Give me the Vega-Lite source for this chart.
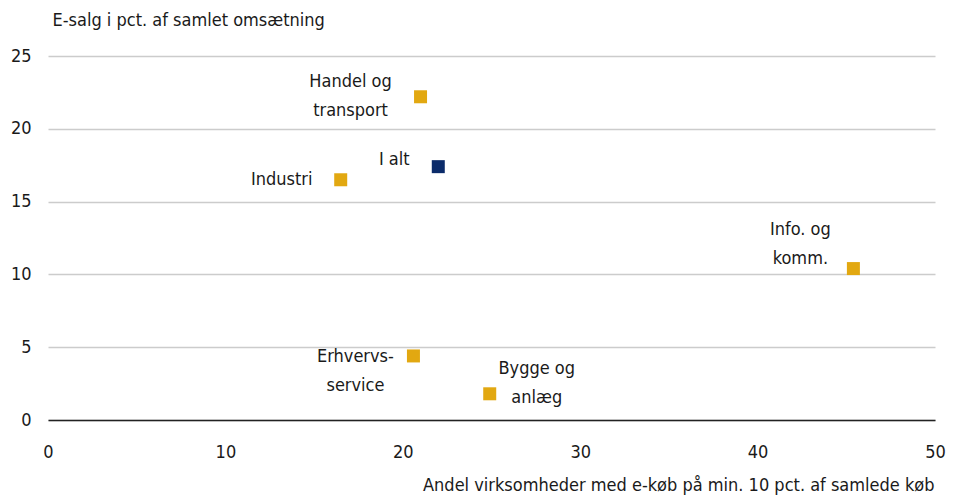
{
  "$schema": "https://vega.github.io/schema/vega-lite/v6.json",
  "autosize": "none",
  "width": 887,
  "height": 364,
  "padding": {"left": 48, "top": 56, "right": 21, "bottom": 78},
  "background": "white",
  "config": {
    "font": "DejaVu Sans Condensed",
    "view": {"stroke": null},
    "text": {"font": "DejaVu Sans Condensed", "fontSize": 18, "color": "#1a1a1a", "lineHeight": 29}
  },
  "data": {
    "values": [
      {"name": "Handel og transport", "label": "Handel og\ntransport", "x": 21.0, "y": 22.2, "group": "sektor"},
      {"name": "I alt", "label": "I alt", "x": 22.0, "y": 17.4, "group": "total"},
      {"name": "Industri", "label": "Industri", "x": 16.5, "y": 16.5, "group": "sektor"},
      {"name": "Info. og komm.", "label": "Info. og\nkomm.", "x": 45.4, "y": 10.4, "group": "sektor"},
      {"name": "Erhvervsservice", "label": "Erhvervs-\nservice", "x": 20.6, "y": 4.4, "group": "sektor"},
      {"name": "Bygge og anlæg", "label": "Bygge og\nanlæg", "x": 24.9, "y": 1.8, "group": "sektor"}
    ]
  },
  "encoding": {
    "x": {
      "field": "x", "type": "quantitative",
      "scale": {"domain": [0, 50], "nice": false, "zero": true},
      "axis": {
        "values": [0, 10, 20, 30, 40, 50],
        "grid": false, "ticks": false,
        "domain": true, "domainColor": "#222222", "domainWidth": 1.5,
        "labelFont": "DejaVu Sans Condensed", "labelFontSize": 18, "labelColor": "#1a1a1a",
        "labelPadding": 23, "labelFlush": false,
        "title": "Andel virksomheder med e-køb på min. 10 pct. af samlede køb",
        "titleFont": "DejaVu Sans Condensed", "titleFontSize": 18, "titleFontWeight": "normal", "titleColor": "#1a1a1a",
        "titleAnchor": "end", "titleAlign": "right", "titleX": 886, "titleY": 65, "titleBaseline": "middle"
      }
    },
    "y": {
      "field": "y", "type": "quantitative",
      "scale": {"domain": [0, 25], "nice": false},
      "axis": {
        "values": [0, 5, 10, 15, 20, 25],
        "grid": true, "gridColor": "#cccccc", "gridWidth": 1.5,
        "ticks": false, "domain": false,
        "labelFont": "DejaVu Sans Condensed", "labelFontSize": 18, "labelColor": "#1a1a1a",
        "labelPadding": 17,
        "title": "E-salg i pct. af samlet omsætning",
        "titleFont": "DejaVu Sans Condensed", "titleFontSize": 18, "titleFontWeight": "normal", "titleColor": "#1a1a1a",
        "titleAngle": 0, "titleAlign": "left", "titleBaseline": "middle", "titleX": 4, "titleY": -36
      }
    }
  },
  "layer": [
    {
      "mark": {"type": "square", "size": 169, "opacity": 1, "cornerRadius": 1},
      "encoding": {
        "color": {
          "field": "group", "type": "nominal",
          "scale": {"domain": ["sektor", "total"], "range": ["#E2A811", "#0B2B6A"]},
          "legend": null
        }
      }
    },
    {
      "transform": [{"filter": "datum.name === 'Handel og transport'"}],
      "mark": {"type": "text", "align": "center", "baseline": "middle", "lineBreak": "\n", "dx": -70, "dy": -15},
      "encoding": {"text": {"field": "label"}}
    },
    {
      "transform": [{"filter": "datum.name === 'I alt'"}],
      "mark": {"type": "text", "align": "center", "baseline": "middle", "lineBreak": "\n", "dx": -44, "dy": -7},
      "encoding": {"text": {"field": "label"}}
    },
    {
      "transform": [{"filter": "datum.name === 'Industri'"}],
      "mark": {"type": "text", "align": "center", "baseline": "middle", "lineBreak": "\n", "dx": -59, "dy": 0},
      "encoding": {"text": {"field": "label"}}
    },
    {
      "transform": [{"filter": "datum.name === 'Info. og komm.'"}],
      "mark": {"type": "text", "align": "center", "baseline": "middle", "lineBreak": "\n", "dx": -53, "dy": -39},
      "encoding": {"text": {"field": "label"}}
    },
    {
      "transform": [{"filter": "datum.name === 'Erhvervsservice'"}],
      "mark": {"type": "text", "align": "center", "baseline": "middle", "lineBreak": "\n", "dx": -58, "dy": 1},
      "encoding": {"text": {"field": "label"}}
    },
    {
      "transform": [{"filter": "datum.name === 'Bygge og anlæg'"}],
      "mark": {"type": "text", "align": "center", "baseline": "middle", "lineBreak": "\n", "dx": 47, "dy": -25},
      "encoding": {"text": {"field": "label"}}
    }
  ]
}
